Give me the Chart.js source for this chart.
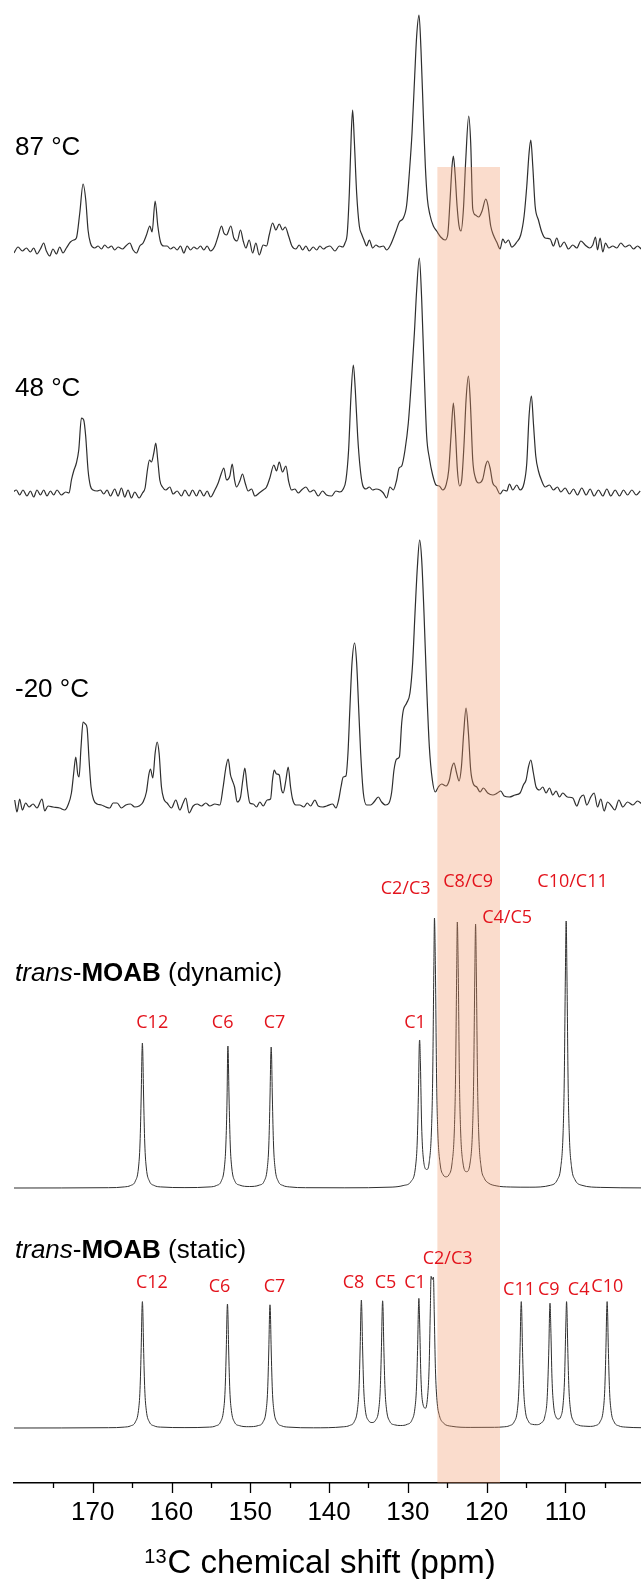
<!DOCTYPE html>
<html>
<head>
<meta charset="utf-8">
<title>13C NMR spectra of trans-MOAB</title>
<script src="https://cdn.jsdelivr.net/npm/chart.js@4.4.1/dist/chart.umd.min.js"></script>
<style>
  html, body { margin: 0; padding: 0; background: #fff; }
  #spectra { display: block; }
</style>
</head>
<body>
<canvas id="spectra" width="641" height="1579"></canvas>
<script>
// Spectra: chemical shift (ppm) and intensity above each trace's baseline

// 87 °C experimental
const ppm87 = [180.0, 179.49, 178.94, 178.43, 177.92, 177.5, 177.08, 176.65, 176.23, 175.89, 175.47, 175.05, 174.62, 174.2, 173.78, 173.35, 172.84, 172.42, 172.08, 171.65, 171.23, 170.89, 170.6, 170.3, 169.75, 169.33, 168.9, 168.48, 168.06, 167.63, 167.21, 166.79, 166.23, 165.81, 165.3, 164.88, 164.45, 164.03, 163.61, 163.18, 162.76, 162.47, 162.08, 161.74, 161.4, 160.98, 160.56, 160.13, 159.71, 159.29, 158.86, 158.44, 158.02, 157.59, 157.17, 156.75, 156.32, 155.9, 155.48, 155.05, 154.5, 154.08, 153.65, 153.36, 153.02, 152.47, 152.09, 151.67, 151.24, 150.9, 150.56, 150.14, 149.71, 149.29, 148.87, 148.36, 147.93, 147.6, 147.17, 146.75, 146.33, 145.9, 145.57, 145.14, 144.72, 144.21, 143.79, 143.36, 142.94, 142.52, 142.01, 141.58, 141.16, 140.74, 140.31, 139.89, 139.25, 138.7, 138.28, 137.98, 137.69, 137.43, 137.18, 137.01, 136.8, 136.5, 136.16, 135.87, 135.57, 135.23, 134.89, 134.47, 134.05, 133.62, 133.11, 132.69, 132.27, 131.93, 131.5, 131.08, 130.57, 130.15, 129.81, 129.47, 129.13, 128.88, 128.58, 128.33, 128.03, 127.78, 127.52, 127.19, 126.76, 126.34, 125.83, 125.28, 124.94, 124.64, 124.39, 124.22, 124.01, 123.75, 123.5, 123.25, 122.95, 122.65, 122.27, 122.02, 121.76, 121.42, 121.0, 120.58, 120.11, 119.82, 119.48, 119.14, 118.72, 118.29, 117.95, 117.61, 117.23, 116.81, 116.17, 115.67, 115.24, 114.9, 114.61, 114.39, 114.14, 113.84, 113.42, 113.0, 112.57, 111.94, 111.52, 111.09, 110.67, 110.16, 109.61, 109.06, 108.55, 108.04, 107.49, 106.94, 106.52, 106.18, 105.92, 105.59, 105.25, 104.91, 104.49, 103.98, 103.47, 102.96, 102.41, 101.86, 101.35, 100.84, 100.38];
const int87 = [-4, 2, -2, 1, -3, 1, -5, 0, 6, -2, -7, 0, -5, 2, -4, 1, 7, 9, 11, 36, 65, 49, 19, 6, 1, 3, 0, 4, 1, 3, -1, 2, 0, 3, 6, -1, -4, 3, 6, 14, 23, 17, 48, 23, 7, 3, 3, 0, 2, -1, 3, -4, 3, -1, 2, 0, 3, -1, 3, -2, 3, 13, 23, 16, 14, 23, 11, 8, 19, 8, 1, 9, -4, 6, -6, 4, 3, 14, 26, 19, 25, 19, 22, 13, 3, 0, 4, -1, 3, -2, 2, -1, 3, 0, 2, 3, -2, 3, 2, 6, 16, 56, 116, 139, 109, 56, 23, 15, 9, 3, 9, 1, 4, 2, 3, -1, 3, 9, 18, 27, 31, 44, 76, 116, 173, 213, 234, 199, 133, 83, 50, 34, 23, 18, 12, 9, 14, 49, 83, 93, 76, 43, 23, 18, 39, 89, 133, 106, 40, 34, 32, 38, 50, 43, 23, 14, 7, 0, 10, 6, 9, 2, 7, 14, 33, 63, 96, 109, 83, 43, 29, 17, 11, 10, 3, 11, 2, 7, 0, 4, 1, 8, 4, 1, 4, 12, -1, 11, -3, 6, 1, 3, 1, 6, 2, 4, 0, 3, 0];

// 48 °C experimental
const ppm48 = [180.13, 179.7, 179.28, 178.86, 178.35, 177.92, 177.5, 177.08, 176.65, 176.23, 175.81, 175.38, 174.96, 174.54, 173.99, 173.43, 173.01, 172.71, 172.42, 172.08, 171.78, 171.44, 171.15, 170.9, 170.6, 170.3, 169.96, 169.45, 169.03, 168.61, 168.18, 167.76, 167.21, 166.79, 166.36, 165.94, 165.52, 165.09, 164.67, 164.12, 163.69, 163.36, 163.06, 162.8, 162.55, 162.25, 162.0, 161.75, 161.49, 161.15, 160.73, 160.22, 159.8, 159.29, 158.74, 158.31, 157.77, 157.34, 156.83, 156.41, 155.9, 155.48, 155.05, 154.5, 154.08, 153.66, 153.36, 153.02, 152.6, 152.3, 152.0, 151.75, 151.33, 150.99, 150.65, 150.27, 149.84, 149.42, 148.87, 148.36, 147.94, 147.52, 147.01, 146.67, 146.33, 145.91, 145.48, 145.14, 144.76, 144.34, 143.92, 143.49, 142.94, 142.43, 141.93, 141.38, 140.83, 140.32, 139.68, 139.13, 138.62, 138.2, 137.86, 137.52, 137.22, 136.92, 136.67, 136.37, 136.08, 135.74, 135.32, 134.89, 134.47, 134.05, 133.54, 133.11, 132.69, 132.27, 131.84, 131.42, 131.12, 130.78, 130.36, 129.94, 129.51, 129.17, 128.88, 128.54, 128.24, 127.95, 127.61, 127.27, 126.85, 126.42, 126.0, 125.57, 125.15, 124.81, 124.52, 124.22, 123.97, 123.71, 123.42, 123.16, 122.86, 122.61, 122.31, 122.06, 121.76, 121.42, 121.0, 120.49, 120.11, 119.86, 119.56, 119.22, 118.8, 118.29, 117.87, 117.44, 117.1, 116.68, 116.17, 115.75, 115.24, 114.9, 114.61, 114.31, 114.06, 113.76, 113.42, 113.0, 112.57, 112.02, 111.52, 111.01, 110.58, 110.03, 109.48, 108.97, 108.47, 107.92, 107.36, 106.86, 106.35, 105.8, 105.25, 104.74, 104.23, 103.68, 103.13, 102.62, 102.11, 101.56, 101.01, 100.5];
const int48 = [1, 3, -2, 3, -3, 2, -4, 3, -2, 3, -3, 2, -2, 3, -2, 1, 0, 13, 22, 30, 43, 75, 73, 57, 23, 7, 3, 2, 3, -1, 3, -3, 4, -3, 5, -4, 3, -5, 1, -5, 0, 5, 23, 33, 31, 40, 50, 33, 13, 6, 3, 6, -1, 2, -3, 3, -3, 3, -3, 3, -3, 2, -4, 3, 10, 20, 25, 13, 17, 29, 13, 6, 12, 19, 10, 2, 4, -3, 0, 3, 6, 15, 28, 22, 31, 21, 27, 12, 3, 4, 0, 3, 6, 1, 3, -3, 2, -2, -3, 2, 1, 4, 13, 43, 97, 128, 103, 57, 27, 8, 4, 6, 3, 4, 3, 0, -5, 6, 3, 13, 25, 27, 43, 70, 117, 160, 203, 235, 193, 127, 57, 35, 18, 8, 7, 3, 8, 23, 57, 90, 63, 23, 7, 13, 50, 93, 117, 90, 33, 15, 10, 14, 28, 32, 25, 10, 6, -1, 3, 2, 9, 3, 8, 3, 10, 30, 77, 97, 70, 37, 22, 12, 6, 8, 3, 6, 1, 5, -1, 4, -2, 5, -2, 4, -3, 3, -3, 4, -3, 3, -3, 3, -2, 3, -2, 2];

// -20 °C experimental
const ppmM20 = [179.91, 179.62, 179.28, 178.94, 178.52, 178.09, 177.58, 177.08, 176.44, 176.1, 175.68, 175.04, 174.2, 173.56, 173.14, 172.71, 172.42, 172.16, 171.91, 171.74, 171.49, 171.23, 170.94, 170.72, 170.47, 170.22, 169.88, 169.45, 168.9, 168.35, 167.84, 167.42, 166.91, 166.36, 165.81, 165.22, 164.67, 164.12, 163.61, 163.19, 162.89, 162.68, 162.38, 162.08, 161.83, 161.58, 161.28, 160.98, 160.56, 160.01, 159.46, 158.95, 158.53, 158.19, 157.77, 157.26, 156.75, 156.2, 155.65, 155.14, 154.5, 153.87, 153.45, 153.11, 152.81, 152.51, 152.26, 152.0, 151.67, 151.24, 150.95, 150.69, 150.4, 150.06, 149.63, 149.21, 148.79, 148.36, 147.86, 147.43, 147.18, 146.97, 146.67, 146.33, 146.03, 145.82, 145.48, 145.19, 144.89, 144.64, 144.21, 143.71, 143.2, 142.77, 142.35, 141.8, 141.38, 140.83, 140.32, 139.55, 139.13, 138.79, 138.49, 138.2, 137.86, 137.6, 137.35, 137.09, 136.76, 136.5, 136.25, 135.99, 135.65, 135.23, 134.72, 134.3, 133.75, 133.33, 132.82, 132.39, 132.05, 131.76, 131.42, 131.08, 130.78, 130.57, 130.15, 129.73, 129.39, 129.09, 128.79, 128.5, 128.24, 127.95, 127.61, 127.27, 126.89, 126.51, 126.13, 125.7, 125.15, 124.73, 124.43, 124.14, 123.84, 123.5, 123.2, 122.91, 122.61, 122.31, 122.02, 121.68, 121.25, 120.83, 120.41, 119.86, 119.22, 118.63, 118.21, 117.78, 117.11, 116.39, 115.75, 115.33, 114.99, 114.69, 114.39, 114.06, 113.72, 113.29, 112.87, 112.45, 112.02, 111.6, 111.18, 110.75, 110.33, 109.74, 109.06, 108.55, 108.13, 107.7, 107.28, 106.77, 106.35, 105.92, 105.5, 105.08, 104.65, 104.15, 103.72, 103.21, 102.71, 102.11, 101.43, 100.84, 100.29];
const intM20 = [6, -6, 7, -4, 3, -1, 2, -2, 7, -5, 0, -1, -2, -4, 1, 13, 33, 49, 32, 29, 59, 84, 82, 78, 46, 19, 6, 2, 1, -1, -2, 3, 3, -2, 1, 2, -1, 0, 4, 14, 31, 37, 28, 53, 64, 53, 19, 7, 3, -2, 6, -4, 3, 8, -7, 0, 2, 0, 3, 0, 2, 1, 19, 38, 47, 31, 25, 19, 4, 9, 26, 38, 19, 3, 2, -1, 4, 0, 6, 7, 26, 36, 32, 31, 16, 13, 26, 39, 19, 7, 1, 1, -1, 3, 0, 6, 0, -1, 0, 2, -2, 6, 19, 29, 30, 53, 99, 143, 163, 143, 99, 53, 13, 1, 1, 4, 9, 4, 1, 3, 14, 36, 47, 49, 83, 96, 103, 113, 143, 193, 239, 266, 246, 193, 119, 59, 26, 14, 19, 22, 20, 26, 38, 43, 34, 25, 39, 73, 98, 73, 36, 22, 19, 14, 18, 13, 11, 13, 15, 10, 9, 11, 13, 21, 26, 39, 46, 33, 19, 16, 19, 13, 18, 11, 15, 9, 13, 9, 8, 0, 8, 11, 1, 9, 13, -1, 7, -5, 4, 0, -4, 6, -1, 4, 1, 5, 2];

// trans-MOAB simulated (dynamic)
const ppmDyn = [180, 168, 166.0, 165.2, 164.6, 164.2, 164.0, 163.85, 163.75, 163.7, 163.65, 163.55, 163.4, 163.2, 162.8, 162.2, 161.4, 158.3, 155.1, 154.3, 153.7, 153.3, 153.1, 152.95, 152.88, 152.84, 152.8, 152.7, 152.55, 152.35, 151.95, 151.35, 150.1, 148.85, 148.25, 147.85, 147.65, 147.5, 147.4, 147.35, 147.3, 147.2, 147.05, 146.85, 146.45, 145.85, 145.05, 143, 138, 132, 130.5, 129.6, 129.0, 128.8, 128.65, 128.55, 128.5, 128.4, 128.25, 128.05, 127.6, 127.3, 127.0, 126.85, 126.7, 126.62, 126.5, 126.35, 126.2, 125.9, 125.5, 125.15, 124.8, 124.4, 124.1, 123.95, 123.8, 123.72, 123.6, 123.45, 123.3, 123.0, 122.55, 122.1, 121.8, 121.65, 121.5, 121.4, 121.3, 121.15, 121.0, 120.7, 120.3, 119.8, 118.8, 117, 114.5, 111.9, 111.0, 110.6, 110.3, 110.15, 110.0, 109.9, 109.8, 109.65, 109.5, 109.2, 108.8, 107.9, 105.5, 100.4];
const intDyn = [0, 0.3, 1.1, 2.5, 6.8, 20, 45, 93, 136, 145, 136, 93, 45, 20, 6.8, 2.5, 1.1, 0.4, 1.1, 2.5, 6.7, 20, 44, 91, 134, 142, 134, 91, 44, 20, 6.7, 2.9, 1.5, 2.9, 6.7, 19.5, 43, 90, 133, 141, 133, 90, 43, 19.5, 6.7, 2.5, 1.1, 0.3, 0.2, 0.9, 2.6, 6.5, 23, 48, 98, 143, 148, 123, 63, 31, 18.5, 25, 58, 109, 219, 270, 219, 109, 57, 24, 13, 11.2, 13, 24, 57, 108, 216, 266, 216, 108, 57, 25, 16.3, 25, 56, 106, 213, 264, 213, 105, 54, 21, 9.8, 5.1, 2.2, 1, 0.8, 2.7, 8.6, 20, 53, 104, 213, 267, 213, 104, 53, 20, 8.6, 2.7, 0.6, 0.1];

// trans-MOAB simulated (static)
const ppmSta = [180, 168, 166.0, 165.2, 164.6, 164.2, 164.0, 163.85, 163.75, 163.7, 163.65, 163.55, 163.4, 163.2, 162.8, 162.2, 161.4, 158.3, 155.2, 154.4, 153.8, 153.4, 153.2, 153.05, 152.95, 152.9, 152.85, 152.75, 152.6, 152.4, 152.0, 151.4, 150.2, 149.0, 148.4, 148.0, 147.8, 147.65, 147.55, 147.5, 147.45, 147.35, 147.2, 147.0, 146.6, 146.0, 145.2, 142, 138.2, 137.4, 136.8, 136.4, 136.2, 136.05, 135.95, 135.9, 135.85, 135.75, 135.6, 135.4, 135.0, 134.55, 134.1, 133.7, 133.5, 133.35, 133.25, 133.2, 133.15, 133.05, 132.9, 132.7, 132.3, 131.7, 130.9, 130.1, 129.5, 129.1, 128.9, 128.75, 128.65, 128.6, 128.5, 128.35, 128.15, 127.75, 127.45, 127.3, 127.15, 127.05, 126.9, 126.75, 126.65, 126.5, 126.3, 126.0, 125.5, 124.5, 122, 119, 117.9, 117.1, 116.5, 116.1, 115.9, 115.75, 115.65, 115.6, 115.55, 115.45, 115.3, 115.1, 114.7, 114.15, 113.7, 113.1, 112.6, 112.3, 112.1, 112.0, 111.95, 111.85, 111.7, 111.5, 111.2, 110.9, 110.6, 110.3, 110.1, 109.95, 109.85, 109.8, 109.7, 109.55, 109.35, 108.95, 108.3, 107.5, 107.0, 106.2, 105.6, 105.2, 105.0, 104.85, 104.75, 104.7, 104.65, 104.55, 104.4, 104.2, 103.8, 103.2, 102.4, 100.4];
const intSta = [0, 0.3, 0.9, 2.1, 5.9, 17.4, 38.7, 80.6, 119.3, 126.4, 119.3, 80.6, 38.7, 17.4, 5.9, 2.1, 0.9, 0.4, 0.9, 2.1, 5.8, 17.4, 37.9, 79, 116.9, 124, 116.9, 79, 37.9, 17.4, 5.8, 2.4, 1.3, 2.4, 5.8, 17, 37.9, 79, 116.1, 123.2, 116.1, 79, 37.9, 17, 5.8, 2.1, 0.9, 0.2, 1.2, 2.5, 6.4, 18.2, 39.5, 82.2, 120.1, 128, 120.1, 82.2, 39.5, 18.2, 7.5, 5.5, 7.7, 18.2, 39.5, 81.4, 120.1, 127.2, 120.1, 81.4, 39.5, 18.2, 6.7, 3.2, 2.5, 3.6, 7.6, 19.8, 41.1, 83.7, 121.7, 129.6, 105.1, 53.7, 26.9, 19.8, 35.6, 60.8, 116.9, 151.7, 148.5, 150.9, 116.1, 59.3, 27.7, 12.6, 5.1, 1.8, 0.6, 0.7, 1.1, 2.3, 6.2, 17.4, 39.5, 81.4, 119.3, 126.4, 119.3, 81.4, 39.5, 18.2, 6.8, 3.6, 3.3, 4.9, 11.9, 31.6, 79.8, 117.7, 124.8, 100.3, 49.8, 22.9, 11.1, 9, 11.1, 22.9, 50.6, 101.1, 126.4, 118.5, 80.6, 39.5, 18.2, 6.7, 2.8, 1.8, 1.6, 2.4, 6.2, 17.4, 38.7, 80.6, 119.3, 126.4, 119.3, 80.6, 38.7, 17.4, 5.9, 2.1, 0.9, 0.3];

// Trace names and the peak assignments
const traceNames = ['87 °C', '48 °C', '-20 °C', 'dynamic', 'static'];
const dynPeakNames = ['C12', 'C6', 'C7', 'C1', 'C2/C3', 'C8/C9', 'C4/C5', 'C10/C11'];
const staPeakNames = ['C12', 'C6', 'C7', 'C8', 'C5', 'C1', 'C2/C3', 'C11', 'C9', 'C4', 'C10'];

// Highlighted region (ppm)
const bandRange = [126.25, 118.3];

// X axis
const xMin = 100.4;
const xMax = 180;
const majorStep = 10;
const minorStep = 5;
const axisTitle = { sup: '13', text: 'C chemical shift (ppm)' };

// ---- layout (kept apart from the data) ----
const PLOT_BOTTOM = 1483;                       // y-scale runs 0..PLOT_BOTTOM, one unit per pixel
const traceOffsets = [1234, 990, 677, 295, 55]; // baseline of each trace
const traceLabelY = [1328, 1087, 786, 502, 225];
const bandTop = 1316;
const dynLabelPpm = [162.45, 153.51, 146.92, 129.09, 130.28, 122.34, 117.4, 109.09];
const dynLabelRise = [160, 160, 160, 160, 294, 301, 265, 301];
const staLabelPpm = [162.5, 153.9, 146.92, 136.89, 132.84, 129.09, 124.95, 115.88, 112.1, 108.32, 104.68];
const staLabelRise = [140, 136, 136, 140, 140, 140, 164, 133, 133, 133, 136];

const FONT = '"Liberation Sans", Arial, sans-serif';
const LABEL_RED = '#e3131c';

function toPoints(ppm, intensity, offset) {
    return ppm.map((p, i) => ({ x: p, y: offset + intensity[i] }));
}

function lineDataset(points, width) {
    return {
        data: points,
        borderColor: '#2e2e2e',
        borderWidth: width,
        pointRadius: 0,
        fill: false,
        cubicInterpolationMode: 'monotone'
    };
}

// Draws a label made of several font runs (italic / bold pieces)
function drawRich(ctx, parts, x, y) {
    parts.forEach(part => {
        ctx.font = part.font;
        ctx.fillText(part.text, x, y);
        x += ctx.measureText(part.text).width;
    });
}

const overlayPlugin = {
    id: 'overlay',
    afterDatasetsDraw(chart) {
        const { ctx, scales: { x, y }, chartArea } = chart;
        ctx.save();

        // translucent highlight over the traces
        const bx0 = x.getPixelForValue(bandRange[0]);
        const bx1 = x.getPixelForValue(bandRange[1]);
        const by = y.getPixelForValue(bandTop);
        ctx.fillStyle = 'rgba(240, 150, 100, 0.33)';
        ctx.fillRect(Math.min(bx0, bx1), by, Math.abs(bx1 - bx0), chartArea.bottom - by);

        // trace labels
        ctx.fillStyle = '#000';
        ctx.textBaseline = 'alphabetic';
        ctx.textAlign = 'left';
        const lx = chartArea.left + 1;
        for (let i = 0; i < 3; i++) {
            ctx.font = '26px ' + FONT;
            ctx.fillText(traceNames[i], lx, y.getPixelForValue(traceLabelY[i]));
        }
        for (let i = 3; i < 5; i++) {
            drawRich(ctx, [
                { text: 'trans', font: 'italic 26px ' + FONT },
                { text: '-', font: '26px ' + FONT },
                { text: 'MOAB', font: 'bold 26px ' + FONT },
                { text: ' (' + traceNames[i] + ')', font: '26px ' + FONT }
            ], lx, y.getPixelForValue(traceLabelY[i]));
        }

        // peak assignments
        ctx.fillStyle = LABEL_RED;
        ctx.textAlign = 'center';
        ctx.font = '18px "Open Sans", sans-serif';
        dynPeakNames.forEach((name, i) => {
            ctx.fillText(name, x.getPixelForValue(dynLabelPpm[i]), y.getPixelForValue(traceOffsets[3] + dynLabelRise[i]));
        });
        staPeakNames.forEach((name, i) => {
            ctx.fillText(name, x.getPixelForValue(staLabelPpm[i]), y.getPixelForValue(traceOffsets[4] + staLabelRise[i]));
        });
        ctx.restore();
    },
    afterDraw(chart) {
        const { ctx, scales: { x }, chartArea } = chart;
        ctx.save();

        // major and minor tick marks below the axis line
        ctx.strokeStyle = '#000';
        ctx.lineWidth = 1.3;
        for (let v = 105; v < xMax; v += minorStep) {
            const px = Math.round(x.getPixelForValue(v)) + 0.5;
            const len = v % majorStep === 0 ? 10 : 5;
            ctx.beginPath();
            ctx.moveTo(px, chartArea.bottom);
            ctx.lineTo(px, chartArea.bottom + len);
            ctx.stroke();
        }

        // axis title with a superscript mass number
        ctx.fillStyle = '#000';
        ctx.textAlign = 'left';
        ctx.textBaseline = 'alphabetic';
        ctx.font = '33px ' + FONT;
        const mainW = ctx.measureText(axisTitle.text).width;
        ctx.font = '20px ' + FONT;
        const supW = ctx.measureText(axisTitle.sup).width;
        const tx = 320 - (mainW + supW + 1) / 2;
        const ty = 1573;
        ctx.fillText(axisTitle.sup, tx, ty - 10);
        ctx.font = '33px ' + FONT;
        ctx.fillText(axisTitle.text, tx + supW + 1, ty);
        ctx.restore();
    }
};

document.addEventListener('DOMContentLoaded', function() {
    const traces = [
        toPoints(ppm87, int87, traceOffsets[0]),
        toPoints(ppm48, int48, traceOffsets[1]),
        toPoints(ppmM20, intM20, traceOffsets[2]),
        toPoints(ppmDyn, intDyn, traceOffsets[3]),
        toPoints(ppmSta, intSta, traceOffsets[4])
    ];

    new Chart(document.getElementById('spectra'), {
        type: 'line',
        data: {
            datasets: [
                lineDataset(traces[0], 1.2),
                lineDataset(traces[1], 1.2),
                lineDataset(traces[2], 1.2),
                lineDataset(traces[3], 1),
                lineDataset(traces[4], 1)
            ]
        },
        options: {
            responsive: false,
            animation: false,
            devicePixelRatio: 1,
            events: [],
            layout: { padding: { left: 14, right: 0, top: 0, bottom: 0 } },
            plugins: {
                legend: { display: false },
                tooltip: { enabled: false }
            },
            scales: {
                x: {
                    type: 'linear',
                    reverse: true,
                    min: xMin,
                    max: xMax,
                    afterFit: function(scale) { scale.height = 1579 - PLOT_BOTTOM; },
                    border: { display: true, color: '#000', width: 1.5 },
                    grid: { display: false, tickLength: 10 },
                    ticks: {
                        stepSize: majorStep,
                        includeBounds: false,
                        autoSkip: false,
                        maxRotation: 0,
                        padding: 4,
                        color: '#000',
                        font: { family: FONT, size: 26 },
                        callback: function(value) {
                            return (value % majorStep === 0 && value < xMax) ? String(value) : '';
                        }
                    },
                    title: { display: false }
                },
                y: {
                    display: false,
                    min: 0,
                    max: PLOT_BOTTOM
                }
            }
        },
        plugins: [overlayPlugin]
    });
});
</script>
</body>
</html>
